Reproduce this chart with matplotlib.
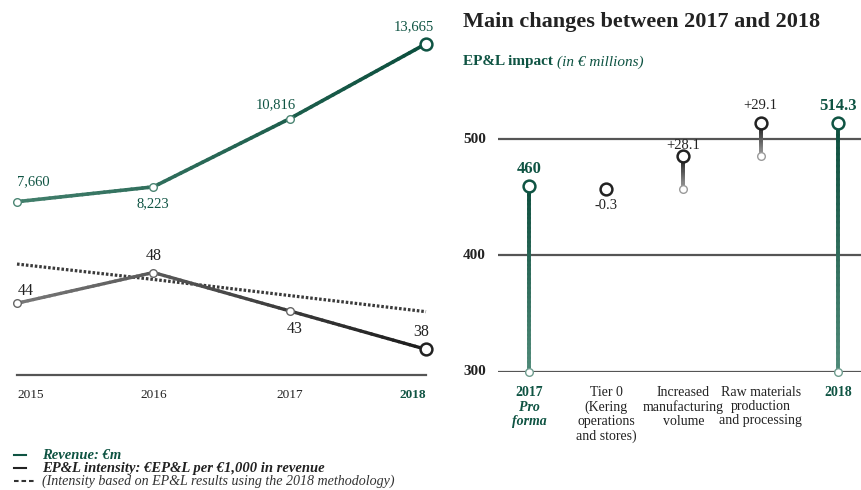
import numpy as np
import matplotlib
matplotlib.use("Agg")
import matplotlib.pyplot as plt
from matplotlib.collections import LineCollection
from matplotlib.colors import to_rgb
from matplotlib.lines import Line2D

# Left panel: revenue and EP&L intensity
years = [2015, 2016, 2017, 2018]
revenue = [7660, 8223, 10816, 13665]
intensity = [44, 48, 43, 38]
intensity_2018_method = [49.1, 47.1, 45.0, 42.9]

# Right panel: changes 2017 -> 2018
change_labels = ["Tier 0\n(Kering\noperations\nand stores)",
                 "Increased\nmanufacturing\nvolume",
                 "Raw materials\nproduction\nand processing"]
changes = [-0.3, 28.1, 29.1]
total_2017 = 460
total_2018 = 514.3

GREEN = "#0f5443"
GREEN_LIGHT = "#4b8573"
DARK = "#222222"
GRID = "#555555"
SERIF = "Liberation Serif"

plt.rcParams["font.family"] = SERIF

W, H = 861, 490
fig = plt.figure(figsize=(W / 100, H / 100), dpi=100)


def px_axes(x0, y0, x1, y1):
    # axes placed from pixel box (top-left origin)
    return fig.add_axes([x0 / W, 1 - y1 / H, (x1 - x0) / W, (y1 - y0) / H])


def gradient_line(ax, xs, ys, c0, c1, lw, n=25, zorder=2):
    xs = np.asarray(xs, float)
    ys = np.asarray(ys, float)
    px, py = [], []
    for i in range(len(xs) - 1):
        t = np.linspace(0, 1, n, endpoint=False)
        px.extend(xs[i] + t * (xs[i + 1] - xs[i]))
        py.extend(ys[i] + t * (ys[i + 1] - ys[i]))
    px.append(xs[-1])
    py.append(ys[-1])
    pts = np.column_stack([px, py])
    segs = np.stack([pts[:-1], pts[1:]], axis=1)
    f = np.linspace(0, 1, len(segs))[:, None]
    cols = (1 - f) * np.array(to_rgb(c0)) + f * np.array(to_rgb(c1))
    lc = LineCollection(segs, colors=cols, linewidths=lw, capstyle="round",
                        joinstyle="round", zorder=zorder)
    ax.add_collection(lc)


def clean(ax):
    for s in ax.spines.values():
        s.set_visible(False)
    ax.set_xticks([])
    ax.set_yticks([])
    ax.patch.set_alpha(0)


# --- revenue axes
ax_r = px_axes(17, 20, 426, 240)
ax_r.set_xlim(2015, 2018)
ax_r.set_ylim(6203, 14568)
clean(ax_r)
gradient_line(ax_r, years, revenue, "#427f6c", "#0b4e3d", 2.6)
ax_r.plot(years[:-1], revenue[:-1], "o", ms=5.5, mfc="white", mec=GREEN_LIGHT,
          mew=1.0, zorder=3, clip_on=False)
ax_r.plot(years[-1], revenue[-1], "o", ms=8.5, mfc="white", mec=GREEN,
          mew=1.8, zorder=3, clip_on=False)
rev_offsets = [(0, 20, "left"), (0, -17, "center"), (-14, 14, "center"),
               (-12, 17, "center")]
for x, v, (dx, dy, ha) in zip(years, revenue, rev_offsets):
    ax_r.annotate(f"{v:,}", (x, v), xytext=(dx, dy), textcoords="offset pixels",
                  ha=ha, va="center", fontsize=10.5, color=GREEN)

# --- intensity axes
ax_i = px_axes(17, 240, 426, 375)
ax_i.set_xlim(2015, 2018)
ax_i.set_ylim(34.66, 52.23)
clean(ax_i)
ax_i.axhline(34.66, color=GRID, lw=1.6, clip_on=False)
ax_i.plot(years, intensity_2018_method, color="#3a3a3a", lw=2.3,
          linestyle=(0, (0.8, 0.6)), zorder=1, clip_on=False)
gradient_line(ax_i, years, intensity, "#787878", "#1c1c1c", 2.4)
ax_i.plot(years[:-1], intensity[:-1], "o", ms=5.5, mfc="white", mec="#666666",
          mew=1.0, zorder=3, clip_on=False)
ax_i.plot(years[-1], intensity[-1], "o", ms=8.5, mfc="white", mec=DARK,
          mew=1.8, zorder=3, clip_on=False)
int_offsets = [(1, 12, "left"), (0, 17, "center"), (5, -18, "center"),
               (-5, 17, "center")]
for x, v, (dx, dy, ha) in zip(years, intensity, int_offsets):
    ax_i.annotate(f"{v}", (x, v), xytext=(dx, dy), textcoords="offset pixels",
                  ha=ha, va="center", fontsize=11.5, color=DARK)

# year labels
year_ha = ["left", "center", "center", "right"]
for x, ha in zip(years, year_ha):
    bold = x == years[-1]
    ax_i.annotate(str(x), (x, 34.66), xytext=(0, -20), textcoords="offset pixels",
                  ha=ha, va="center", fontsize=9.5,
                  color=GREEN if bold else DARK,
                  fontweight="bold" if bold else "normal", annotation_clip=False)

# legend
legend_rows = [
    ("Revenue: €m", GREEN, "bold", "-", 10.5),
    ("EP&L intensity: €EP&L per €1,000 in revenue", DARK, "bold", "-", 10.5),
    ("(Intensity based on EP&L results using the 2018 methodology)", "#333333",
     "normal", "--", 10.1),
]
for k, (txt, col, wt, ls, fs) in enumerate(legend_rows):
    yp = 455 + 13 * k
    x1 = 26 if ls == "-" else 36
    fig.add_artist(Line2D([14 / W, x1 / W], [1 - yp / H] * 2, color=col, lw=1.5,
                          linestyle="-" if ls == "-" else (0, (2.2, 1.4))))
    fig.text(42 / W, 1 - yp / H, txt, ha="left", va="center", fontsize=fs,
             style="italic", fontweight=wt, color=col)

# --- right panel
fig.text(463 / W, 1 - 22 / H, "Main changes between 2017 and 2018", ha="left",
         va="center", fontsize=16, fontweight="bold", color=DARK)
t1 = fig.text(463 / W, 1 - 62 / H, "EP&L impact ", ha="left", va="center",
              fontsize=11, fontweight="bold", color=GREEN)
fig.canvas.draw()
bb = t1.get_window_extent()
fig.text(bb.x1 / W, 1 - 62 / H, "(in € millions)", ha="left", va="center",
         fontsize=11, style="italic", color=GREEN)

ax_w = px_axes(498, 104.4, 861, 371.7)
ax_w.set_xlim(-0.401, 4.298)
ax_w.set_ylim(300, 530)
clean(ax_w)
for g in [300, 400, 500]:
    ax_w.axhline(g, color=GRID, lw=1.6, zorder=1)
    ax_w.annotate(str(g), (-0.401, g), xytext=(-12, 0), textcoords="offset pixels",
                  ha="right", va="center", fontsize=11, fontweight="bold",
                  color=DARK, annotation_clip=False)

# running totals, anchored on the 2018 total
tops = []
level = total_2018
for d in reversed(changes):
    tops.insert(0, level)
    level -= d
bases = [t - d for t, d in zip(tops, changes)]

# totals
for xi, v, lab in [(0, total_2017, "460"), (4, total_2018, "514.3")]:
    gradient_line(ax_w, [xi, xi], [300, v], "#4f8a78", "#0d4e3e", 2.8, n=40)
    ax_w.plot(xi, 300, "o", ms=5.5, mfc="white", mec="#6f9d8f", mew=1.0,
              zorder=4, clip_on=False)
    ax_w.plot(xi, v, "o", ms=8.5, mfc="white", mec=GREEN, mew=1.8, zorder=4)
    ax_w.annotate(lab, (xi, v), xytext=(0, 17), textcoords="offset pixels",
                  ha="center", va="center", fontsize=12, fontweight="bold",
                  color=GREEN)

# changes
label_dy = [-16, 11, 17]
for k, (b, t, d) in enumerate(zip(bases, tops, changes)):
    xi = k + 1
    if abs(d) > 1:
        gradient_line(ax_w, [xi, xi], [b, t], "#a8a8a8", "#1e1e1e", 2.8, n=30)
    ax_w.plot(xi, b, "o", ms=5.5, mfc="white", mec="#9a9a9a", mew=1.0, zorder=4)
    ax_w.plot(xi, t, "o", ms=8.5, mfc="white", mec=DARK, mew=1.8, zorder=5)
    ax_w.annotate(f"{d:+.1f}", (xi, t), xytext=(0, label_dy[k]),
                  textcoords="offset pixels", ha="center", va="center",
                  fontsize=10.5, color=DARK)

# category labels
ax_w.annotate("2017", (0, 300), xytext=(0, -21), textcoords="offset pixels",
              ha="center", va="center", fontsize=10, fontweight="bold",
              color=GREEN, annotation_clip=False)
ax_w.annotate("Pro\nforma", (0, 300), xytext=(0, -29), textcoords="offset pixels",
              ha="center", va="top", fontsize=10, fontweight="bold",
              style="italic", color=GREEN, linespacing=1.15,
              annotation_clip=False)
for k, lab in enumerate(change_labels):
    ax_w.annotate(lab, (k + 1, 300), xytext=(0, -14), textcoords="offset pixels",
                  ha="center", va="top", fontsize=10, color=DARK,
                  linespacing=1.13, annotation_clip=False)
ax_w.annotate("2018", (4, 300), xytext=(0, -21), textcoords="offset pixels",
              ha="center", va="center", fontsize=10, fontweight="bold",
              color=GREEN, annotation_clip=False)

fig.savefig("out.png", dpi=100)
